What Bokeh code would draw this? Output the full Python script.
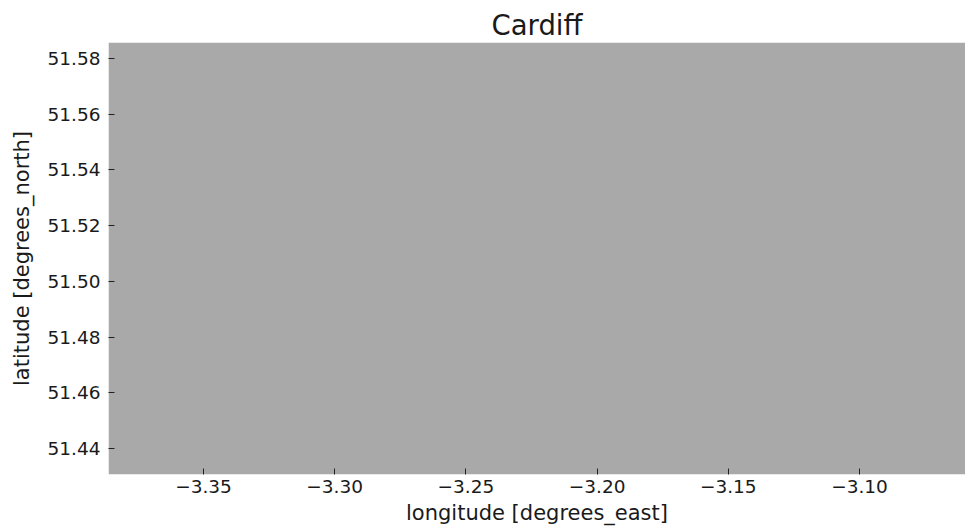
from bokeh.plotting import figure
from bokeh.models import FixedTicker, CustomJSTickFormatter, Range1d
from bokeh.embed import file_html
from bokeh.resources import INLINE

title = "Cardiff"
x_label = "longitude [degrees_east]"
y_label = "latitude [degrees_north]"
lon_range = [-3.3862, -3.0596]
lat_range = [51.4307, 51.5857]
x_ticks = [-3.35, -3.30, -3.25, -3.20, -3.15, -3.10]
y_ticks = [51.44, 51.46, 51.48, 51.50, 51.52, 51.54, 51.56, 51.58]
fill_value_color = "#a9a9a9"

FONT = "DejaVu Sans"

p = figure(width=965, height=531, output_backend="svg", toolbar_location=None,
           x_range=Range1d(*lon_range), y_range=Range1d(*lat_range),
           min_border_left=108, min_border_right=0, min_border_top=42, min_border_bottom=57)

p.quad(left=[lon_range[0]], right=[lon_range[1]], bottom=[lat_range[0]], top=[lat_range[1]],
       fill_color=fill_value_color, line_color=None)

p.title.text = title
p.title.align = "center"
p.title.text_font = FONT
p.title.text_font_size = "27.5px"
p.title.text_font_style = "normal"
p.title.text_color = "#1a1a1a"
p.title.standoff = 4

p.grid.visible = False
p.outline_line_color = None
p.background_fill_color = "white"
p.border_fill_color = "white"

fmt = CustomJSTickFormatter(code="return tick.toFixed(2).replace('-', '\u2212');")

for ax, ticks, label in [(p.xaxis[0], x_ticks, x_label),
                         (p.yaxis[0], y_ticks, y_label)]:
    ax.ticker = FixedTicker(ticks=ticks)
    ax.formatter = fmt
    ax.axis_label = label
    ax.axis_label_text_font = FONT
    ax.axis_label_text_font_size = "21px"
    ax.axis_label_text_font_style = "normal"
    ax.axis_label_text_color = "#1a1a1a"
    ax.major_label_text_font = FONT
    ax.major_label_text_font_size = "18.5px"
    ax.major_label_text_color = "#1a1a1a"
    ax.axis_line_color = None
    ax.major_tick_in = 6
    ax.major_tick_out = 0
    ax.major_tick_line_color = "#222222"
    ax.minor_tick_line_color = None

p.xaxis[0].major_label_standoff = 5
p.xaxis[0].axis_label_standoff = 5
p.yaxis[0].major_label_standoff = 8
p.yaxis[0].axis_label_standoff = 11

open("out.html", "w").write(file_html(p, INLINE))
